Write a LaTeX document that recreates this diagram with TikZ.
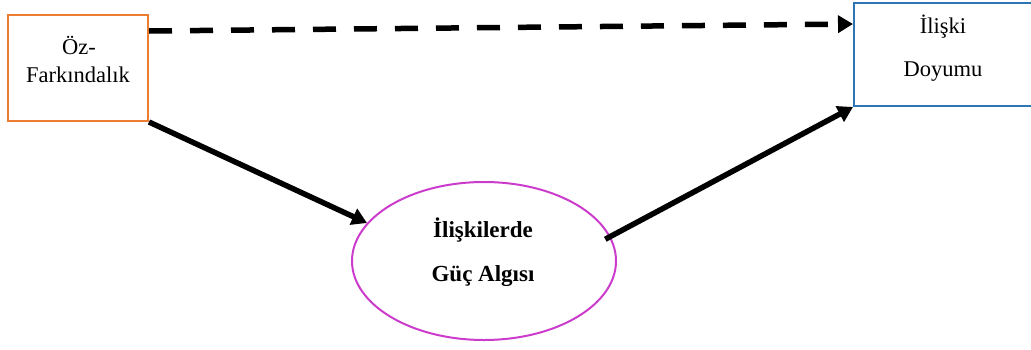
\documentclass[tikz,border=0pt]{standalone}
\usepackage{fontspec}
\setmainfont{Liberation Serif}
\usetikzlibrary{arrows.meta,shapes.geometric}
\definecolor{boxorange}{RGB}{237,125,49}
\definecolor{boxblue}{RGB}{46,117,182}
\definecolor{ellmag}{RGB}{204,60,204}
\tikzset{
  lbl/.style={font=\fontsize{22.5}{26}\selectfont, inner sep=0pt, anchor=center},
  lblb/.style={font=\fontsize{23}{26}\selectfont\bfseries, inner sep=0pt, anchor=center},
  frame/.style={draw, line width=2pt, inner sep=0pt},
  conn/.style={line width=5.5pt, -{Triangle[length=15pt,width=17pt]}},
}
\begin{document}
\begin{tikzpicture}[x=1pt,y=-1pt]
\useasboundingbox (0,0) rectangle (1031,349);
% boxes
\node[frame, draw=boxorange, minimum width=140pt, minimum height=106pt] (lbox) at (78,68) {};
\node[frame, draw=boxblue, minimum width=178pt, minimum height=103pt] (rbox) at (943,54.5) {};
\node[draw=ellmag, line width=2pt, ellipse, minimum width=264pt, minimum height=158pt, inner sep=0pt] (ell) at (484,261) {};
% texts
\node[lbl] (t1) at (79,45) {Öz-};
\node[lbl] (t2) at (78,75) {Farkındalık};
\node[lbl] (t3) at (943,27) {İlişki};
\node[lbl] (t4) at (943,72) {Doyumu};
\node[lblb] (t5) at (483,230) {İlişkilerde};
\node[lblb] (t6) at (483,276) {Güç Algısı};
% connectors
\draw[conn, dash pattern=on 23pt off 18pt] ([yshift=-17pt]lbox.north east) -- ([yshift=-22pt]rbox.north west);
\draw[conn] (lbox.south east) -- (ell.162);
\draw[conn, shorten <=-6pt] (ell.11) -- (rbox.south west);
\end{tikzpicture}
\end{document}
